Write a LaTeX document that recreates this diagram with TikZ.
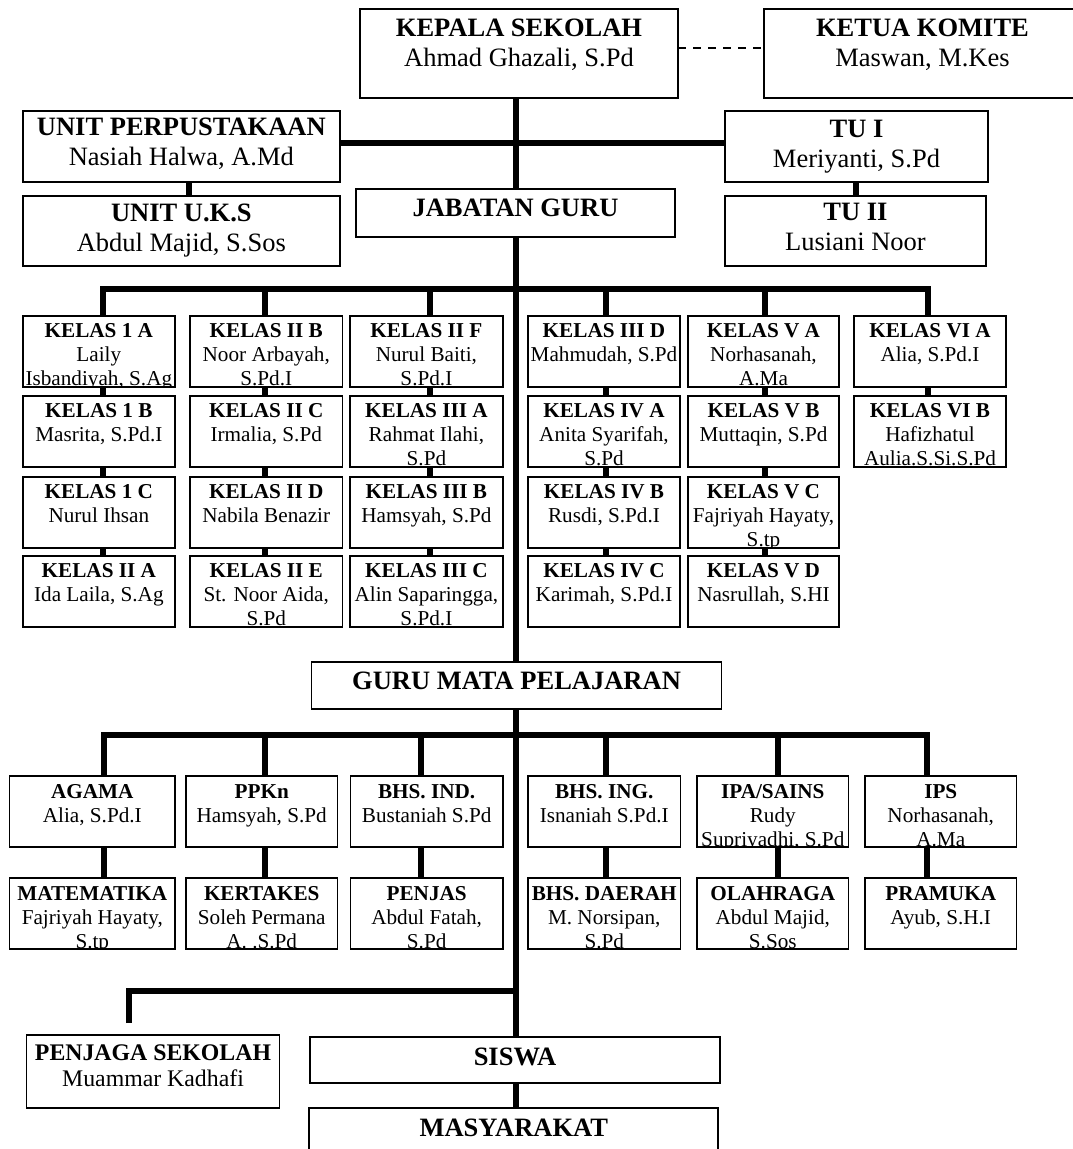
\documentclass[tikz,border=0pt]{standalone}
\usepackage{fontspec}
\setmainfont{Liberation Serif}
\tikzset{
  box/.style={draw, line width=1.7pt, inner sep=0pt, outer sep=0pt, minimum width=10pt, minimum height=10pt},
  big/.style={inner sep=0pt, align=center, font=\fontsize{26.5}{30}\selectfont},
  sml/.style={inner sep=0pt, align=center, font=\fontsize{21.2}{23.8}\selectfont},
  mid/.style={inner sep=0pt, align=center, font=\fontsize{23.8}{26}\selectfont},
  conn/.style={line width=6pt},
  dashline/.style={line width=1.6pt, dash pattern=on 8pt off 7pt},
}
% #1 name, #2 x1, #3 y1, #4 x2, #5 y2, #6 text style, #7 top offset, #8 text
\newcommand{\obox}[8]{%
  \pgfmathsetmacro{\oboxcx}{(#2+#4)/2}%
  \pgfmathsetmacro{\oboxcy}{(#3+#5)/2}%
  \pgfmathsetmacro{\oboxw}{#4-#2}%
  \pgfmathsetmacro{\oboxh}{#5-#3}%
  \begin{scope}
    \clip (#2,#3) rectangle (#4,#5);
    \node[#6, anchor=north] (#1-t) at (\oboxcx,#3+#7) {#8};
  \end{scope}
  \node[box, minimum width=\oboxw pt, minimum height=\oboxh pt] (#1) at (\oboxcx,\oboxcy) {};
}
\begin{document}
\begin{tikzpicture}[x=1pt,y=-1pt]
\useasboundingbox (0,0) rectangle (1073,1149);
\fill[white] (0,0) rectangle (1073,1149);
\clip (0,0) rectangle (1073,1149);

% helper coordinates
\coordinate (tx) at (515.5,0);
\coordinate (dy) at (0,47.7);
\coordinate (hy) at (515.5,142.7);
\coordinate (ux) at (188.7,0);
\coordinate (tux) at (855.5,0);
\coordinate (cbus) at (515.5,289.3);
\coordinate (sbus) at (515.5,735);
\coordinate (pj) at (515.5,991);
\coordinate (pend) at (128.5,1023);
\coordinate (kx1) at (102.6,0);
\coordinate (kx2) at (265,0);
\coordinate (kx3) at (430.4,0);
\coordinate (kx4) at (605.5,0);
\coordinate (kx5) at (764.8,0);
\coordinate (kx6) at (927.5,0);
\coordinate (sx1) at (104,0);
\coordinate (sx2) at (265,0);
\coordinate (sx3) at (421,0);
\coordinate (sx4) at (606,0);
\coordinate (sx5) at (778,0);
\coordinate (sx6) at (926.5,0);

% top part
\obox{kepala}{360}{9.3}{678}{97.7}{big}{9}{\textbf{KEPALA SEKOLAH}\\Ahmad Ghazali, S.Pd}
\obox{ketua}{764}{9.3}{1081}{97.7}{big}{9}{\textbf{KETUA KOMITE}\\Maswan, M.Kes}
\obox{perp}{22.7}{111}{340}{182}{big}{7}{\textbf{UNIT PERPUSTAKAAN}\\Nasiah Halwa, A.Md}
\obox{tu1}{725}{111}{988}{182}{big}{8.5}{\textbf{TU I}\\Meriyanti, S.Pd}
\obox{uks}{22.7}{195.7}{340}{266.3}{big}{7.6}{\textbf{UNIT U.K.S}\\Abdul Majid, S.Sos}
\obox{jab}{356}{189.3}{675}{236.7}{big}{9}{\textbf{JABATAN GURU}}
\obox{tu2}{725}{195.7}{986}{266.3}{big}{7.6}{\textbf{TU II}\\Lusiani Noor}

% classes
\obox{c1a}{22.7}{315.7}{175}{386.7}{sml}{7.6}{\textbf{KELAS 1 A}\\Laily\\Isbandiyah, S.Ag}
\obox{c1b}{22.7}{395.7}{175}{467.3}{sml}{7.6}{\textbf{KELAS 1 B}\\Masrita, S.Pd.I}
\obox{c1c}{22.7}{476.7}{175}{547.7}{sml}{7.6}{\textbf{KELAS 1 C}\\Nurul Ihsan}
\obox{c1d}{22.7}{556}{175}{627.3}{sml}{7.6}{\textbf{KELAS II A}\\Ida Laila, S.Ag}

\obox{c2a}{190}{315.7}{342.5}{386.7}{sml}{7.6}{\textbf{KELAS II B}\\Noor Arbayah,\\S.Pd.I}
\obox{c2b}{190}{395.7}{342.5}{467.3}{sml}{7.6}{\textbf{KELAS II C}\\Irmalia, S.Pd}
\obox{c2c}{190}{476.7}{342.5}{547.7}{sml}{7.6}{\textbf{KELAS II D}\\Nabila Benazir}
\obox{c2d}{190}{556}{342.5}{627.3}{sml}{7.6}{\textbf{KELAS II E}\\St. Noor Aida,\\S.Pd}

\obox{c3a}{350}{315.7}{502.8}{386.7}{sml}{7.6}{\textbf{KELAS II F}\\Nurul Baiti,\\S.Pd.I}
\obox{c3b}{350}{395.7}{502.8}{467.3}{sml}{7.6}{\textbf{KELAS III A}\\Rahmat Ilahi,\\S.Pd}
\obox{c3c}{350}{476.7}{502.8}{547.7}{sml}{7.6}{\textbf{KELAS III B}\\Hamsyah, S.Pd}
\obox{c3d}{350}{556}{502.8}{627.3}{sml}{7.6}{\textbf{KELAS III C}\\Alin Saparingga,\\S.Pd.I}

\obox{c4a}{528}{315.7}{680}{386.7}{sml}{7.6}{\textbf{KELAS III D}\\Mahmudah, S.Pd}
\obox{c4b}{528}{395.7}{680}{467.3}{sml}{7.6}{\textbf{KELAS IV A}\\Anita Syarifah,\\S.Pd}
\obox{c4c}{528}{476.7}{680}{547.7}{sml}{7.6}{\textbf{KELAS IV B}\\Rusdi, S.Pd.I}
\obox{c4d}{528}{556}{680}{627.3}{sml}{7.6}{\textbf{KELAS IV C}\\Karimah, S.Pd.I}

\obox{c5a}{688}{315.7}{839}{386.7}{sml}{7.6}{\textbf{KELAS V A}\\Norhasanah,\\A.Ma}
\obox{c5b}{688}{395.7}{839}{467.3}{sml}{7.6}{\textbf{KELAS V B}\\Muttaqin, S.Pd}
\obox{c5c}{688}{476.7}{839}{547.7}{sml}{7.6}{\textbf{KELAS V C}\\Fajriyah Hayaty,\\S.tp}
\obox{c5d}{688}{556}{839}{627.3}{sml}{7.6}{\textbf{KELAS V D}\\Nasrullah, S.HI}

\obox{c6a}{854}{315.7}{1006}{386.7}{sml}{7.6}{\textbf{KELAS VI A}\\Alia, S.Pd.I}
\obox{c6b}{854}{395.7}{1006}{467.3}{sml}{7.6}{\textbf{KELAS VI B}\\Hafizhatul\\Aulia.S.Si.S.Pd}

% guru mata pelajaran
\obox{guru}{311.6}{662.3}{721.5}{709.3}{big}{9.4}{\textbf{GURU MATA PELAJARAN}}

\obox{s1a}{9.6}{775.7}{175}{846.7}{sml}{8.6}{\textbf{AGAMA}\\Alia, S.Pd.I}
\obox{s2a}{186}{775.7}{337.5}{846.7}{sml}{8.6}{\textbf{PPKn}\\Hamsyah, S.Pd}
\obox{s3a}{350.5}{775.7}{502.8}{846.7}{sml}{8.6}{\textbf{BHS. IND.}\\Bustaniah S.Pd}
\obox{s4a}{528}{775.7}{680.5}{846.7}{sml}{8.6}{\textbf{BHS. ING.}\\Isnaniah S.Pd.I}
\obox{s5a}{697}{775.7}{848.6}{846.7}{sml}{8.6}{\textbf{IPA/SAINS}\\Rudy\\Supriyadhi, S.Pd}
\obox{s6a}{865}{775.7}{1016.5}{846.7}{sml}{8.6}{\textbf{IPS}\\Norhasanah,\\A.Ma}

\obox{s1b}{9.6}{877.7}{175}{949}{sml}{8.6}{\textbf{MATEMATIKA}\\Fajriyah Hayaty,\\S.tp}
\obox{s2b}{186}{877.7}{337.5}{949}{sml}{8.6}{\textbf{KERTAKES}\\Soleh Permana\\A. .S.Pd}
\obox{s3b}{350.5}{877.7}{502.8}{949}{sml}{8.6}{\textbf{PENJAS}\\Abdul Fatah,\\S.Pd}
\obox{s4b}{528}{877.7}{680.5}{949}{sml}{8.6}{\textbf{BHS. DAERAH}\\M. Norsipan,\\S.Pd}
\obox{s5b}{697}{877.7}{848.6}{949}{sml}{8.6}{\textbf{OLAHRAGA}\\Abdul Majid,\\S.Sos}
\obox{s6b}{865}{877.7}{1016.5}{949}{sml}{8.6}{\textbf{PRAMUKA}\\Ayub, S.H.I}

% bottom
\obox{penjaga}{26.5}{1035}{279.5}{1107.7}{mid}{10}{\textbf{PENJAGA SEKOLAH}\\Muammar Kadhafi}
\obox{siswa}{310}{1036.7}{720}{1083.3}{big}{11}{\textbf{SISWA}}
\obox{masy}{309.3}{1108.3}{718.3}{1185}{big}{10}{\textbf{MASYARAKAT}}

% connectors: top
\draw[dashline] (kepala.east |- dy) -- (ketua.west |- dy);
\draw[conn] (kepala.south -| tx) -- (jab.north -| tx);
\draw[conn] (perp.east |- hy) -- (tu1.west |- hy);
\draw[conn] (perp.south -| ux) -- (uks.north -| ux);
\draw[conn] (tu1.south -| tux) -- (tu2.north -| tux);

% trunk
\draw[conn] (jab.south -| tx) -- (guru.north -| tx);
\draw[conn] (guru.south -| tx) -- (siswa.north -| tx);
\draw[conn] (siswa.south -| tx) -- (masy.north -| tx);

% class bus
\draw[conn] (c1a.north -| kx1) |- (cbus) -| (c6a.north -| kx6);
\foreach \k in {2,3,4,5} {
  \draw[conn] (c\k a.north -| kx\k) -- (cbus -| kx\k);
}
\foreach \k in {1,...,5} {
  \draw[conn] (c\k a.south -| kx\k) -- (c\k b.north -| kx\k);
  \draw[conn] (c\k b.south -| kx\k) -- (c\k c.north -| kx\k);
  \draw[conn] (c\k c.south -| kx\k) -- (c\k d.north -| kx\k);
}
\draw[conn] (c6a.south -| kx6) -- (c6b.north -| kx6);

% subject bus
\draw[conn] (s1a.north -| sx1) |- (sbus) -| (s6a.north -| sx6);
\foreach \k in {2,3,4,5} {
  \draw[conn] (s\k a.north -| sx\k) -- (sbus -| sx\k);
}
\foreach \k in {1,...,6} {
  \draw[conn] (s\k a.south -| sx\k) -- (s\k b.north -| sx\k);
}

% penjaga branch
\draw[conn] (pend) |- (pj);
\end{tikzpicture}
\end{document}
